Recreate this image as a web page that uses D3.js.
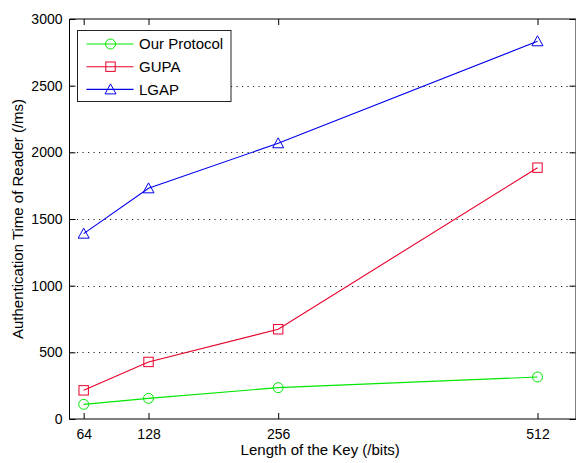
<!DOCTYPE html>
<html>
<head>
<meta charset="utf-8">
<script src="https://cdn.jsdelivr.net/npm/d3@7"></script>
<style>
  html, body { margin: 0; padding: 0; background: #fff; }
  svg { display: block; font-family: "Liberation Sans", Arial, sans-serif; }
</style>
</head>
<body>
<svg id="chart" width="576" height="463"></svg>
<script>
const keyLengths = [64, 128, 256, 512];
const ourProtocol = [110, 155, 235, 315];
const gupa = [215, 428, 673, 1885];
const lgap = [1390, 1730, 2068, 2833];
const xTicks = [64, 128, 256, 512];
const yTicks = [0, 500, 1000, 1500, 2000, 2500, 3000];
const seriesNames = ["Our Protocol", "GUPA", "LGAP"];
const seriesColors = ["#00e600", "#e8002a", "#0000ee"];
const seriesMarkers = ["circle", "square", "triangle"];
const seriesData = [ourProtocol, gupa, lgap];

const svg = d3.select("#chart");
const pLeft = 69.5, pRight = 576, pTop = 19, pBottom = 419;
const x = d3.scaleLinear().domain([50, 550]).range([pLeft, pRight]);
const y = d3.scaleLinear().domain([0, 3000]).range([pBottom, pTop]);

// grid
svg.append("g").selectAll("line").data(yTicks.filter(d => d > 0 && d < 3000)).join("line")
  .attr("x1", pLeft + 2).attr("x2", pRight)
  .attr("y1", d => Math.round(y(d)) + 0.5).attr("y2", d => Math.round(y(d)) + 0.5)
  .attr("stroke", "#222").attr("stroke-width", 1).attr("stroke-dasharray", "1.2,4.3");

// axes
const tickLen = 6;
const fmt = d3.format("d");
const gx = svg.append("g").attr("transform", `translate(0,${pBottom})`)
  .call(d3.axisBottom(x).tickValues(xTicks).tickFormat(fmt).tickSizeInner(-tickLen).tickSizeOuter(0).tickPadding(10));
const gxt = svg.append("g").attr("transform", `translate(0,${pTop})`)
  .call(d3.axisTop(x).tickValues(xTicks).tickSizeInner(-tickLen).tickSizeOuter(0).tickFormat(""));
const gy = svg.append("g").attr("transform", `translate(${pLeft},0)`)
  .call(d3.axisLeft(y).tickValues(yTicks).tickFormat(fmt).tickSizeInner(-tickLen).tickSizeOuter(0).tickPadding(7));
const gyr = svg.append("g").attr("transform", `translate(${pRight - 0.5},0)`)
  .call(d3.axisRight(y).tickValues(yTicks).tickSizeInner(-tickLen).tickSizeOuter(0).tickFormat(""));
[gx, gxt, gy, gyr].forEach(g => {
  g.select(".domain").attr("stroke", "#000");
  g.selectAll(".tick line").attr("stroke", "#000");
  g.selectAll("text").attr("fill", "#000").style("font-size", "14px")
    .style("font-family", "'Liberation Sans', Arial, sans-serif");
});
gy.select(".domain").remove();
gy.append("line").attr("x1", 0).attr("x2", 0).attr("y1", pTop).attr("y2", pBottom + 0.5).attr("stroke", "#000");
gx.select(".domain").remove();
gx.append("line").attr("x1", pLeft).attr("x2", pRight).attr("y1", 0).attr("y2", 0).attr("stroke", "#000");
gxt.select(".domain").remove();
gxt.append("line").attr("x1", pLeft).attr("x2", pRight).attr("y1", 0).attr("y2", 0).attr("stroke", "#000");

// marker drawing
function drawMarker(g, type, color) {
  if (type === "circle") {
    g.append("circle").attr("r", 5).attr("fill", "none").attr("stroke", color).attr("stroke-width", 1);
  } else if (type === "square") {
    g.append("rect").attr("x", -4.7).attr("y", -4.7).attr("width", 9.4).attr("height", 9.4)
      .attr("fill", "none").attr("stroke", color).attr("stroke-width", 1);
  } else {
    g.append("path").attr("d", "M0,-5.5L5.5,4.5L-5.5,4.5Z")
      .attr("fill", "none").attr("stroke", color).attr("stroke-width", 1);
  }
}

// series
const line = d3.line().x((d, i) => x(keyLengths[i])).y(d => y(d));
seriesData.forEach((vals, s) => {
  svg.append("path").datum(vals).attr("d", line)
    .attr("fill", "none").attr("stroke", seriesColors[s]).attr("stroke-width", 1.1);
  vals.forEach((v, i) => {
    const g = svg.append("g").attr("transform", `translate(${x(keyLengths[i])},${y(v)})`);
    drawMarker(g, seriesMarkers[s], seriesColors[s]);
  });
});

// legend
const lg = svg.append("g");
lg.append("rect").attr("x", 77.5).attr("y", 30.5).attr("width", 153.5).attr("height", 71)
  .attr("fill", "#fff").attr("stroke", "#222").attr("stroke-width", 1);
seriesNames.forEach((name, s) => {
  const yy = 44 + s * 22.7;
  lg.append("line").attr("x1", 86.5).attr("x2", 133.5).attr("y1", yy).attr("y2", yy)
    .attr("stroke", seriesColors[s]).attr("stroke-width", 1.1);
  const mg = lg.append("g").attr("transform", `translate(110.5,${yy})`);
  drawMarker(mg, seriesMarkers[s], seriesColors[s]);
  lg.append("text").attr("x", 139).attr("y", yy + 5.2).text(name)
    .style("font-size", "15px").attr("fill", "#000");
});

// axis labels
svg.append("text").attr("x", (pLeft + 573) / 2 - 1).attr("y", 455).attr("text-anchor", "middle")
  .style("font-size", "15px").text("Length of the Key (/bits)");
svg.append("text").attr("transform", `translate(23,${(pTop + pBottom) / 2}) rotate(-90)`)
  .attr("text-anchor", "middle").style("font-size", "15px").text("Authentication Time of Reader (/ms)");
</script>
</body>
</html>
